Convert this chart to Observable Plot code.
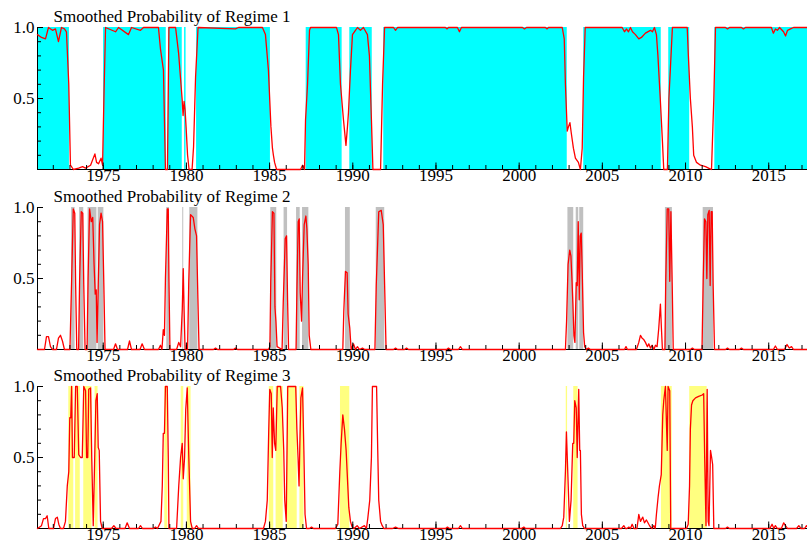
<!DOCTYPE html>
<html>
<head>
<meta charset="utf-8">
<script src="https://cdn.jsdelivr.net/npm/d3@7"></script>
<script src="https://cdn.jsdelivr.net/npm/@observablehq/plot@0.6"></script>
<style>
  html, body { margin: 0; padding: 0; background: #fff; color: #000; }
  #chart { position: relative; width: 807px; height: 548px; overflow: hidden; }
</style>
</head>
<body>
<div id="chart"></div>
<script>
// ---- Data ----
const panelTitles = ["Smoothed Probability of Regime 1", "Smoothed Probability of Regime 2", "Smoothed Probability of Regime 3"];
const xDomain = [1971.05, 2017.33];
const majorYears = [1975, 1980, 1985, 1990, 1995, 2000, 2005, 2010, 2015];
const minorYears = [1972,1973,1974,1975,1976,1977,1978,1979,1980,1981,1982,1983,1984,1985,1986,1987,1988,1989,1990,1991,1992,1993,1994,1995,1996,1997,1998,1999,2000,2001,2002,2003,2004,2005,2006,2007,2008,2009,2010,2011,2012,2013,2014,2015,2016,2017];
const yMinorTicks = [0.1, 0.2, 0.3, 0.4, 0.6, 0.7, 0.8, 0.9];
const yMajorTicks = [0.5, 1.0];
const yLabels = [0.5, 1.0];

const regime1Prob = [[1971.05,0.95],[1971.29,0.93],[1971.53,0.92],[1971.71,1.0],[1971.95,0.98],[1972.13,0.99],[1972.31,0.90],[1972.49,1.0],[1972.67,0.99],[1972.79,0.97],[1972.93,0.6],[1973.03,0.03],[1973.21,0.0],[1973.52,0.01],[1973.76,0.02],[1973.94,0.01],[1974.24,0.03],[1974.50,0.11],[1974.60,0.05],[1974.72,0.04],[1974.87,0.08],[1974.96,0.03],[1975.05,0.55],[1975.14,1.0],[1975.74,0.97],[1975.92,1.0],[1976.52,0.95],[1976.70,1.0],[1977.24,0.98],[1977.42,1.0],[1978.32,1.0],[1978.44,0.85],[1978.62,0.7],[1978.74,0.0],[1978.86,0.0],[1978.95,1.0],[1979.35,1.0],[1979.53,0.82],[1979.74,0.5],[1979.80,0.38],[1979.86,0.48],[1979.92,0.42],[1979.98,0.3],[1980.07,0.1],[1980.16,0.0],[1980.34,0.0],[1980.43,0.16],[1980.55,0.65],[1980.70,1.0],[1982.95,0.99],[1983.13,1.0],[1984.57,1.0],[1984.75,0.95],[1984.93,0.7],[1985.08,0.3],[1985.17,0.15],[1985.23,0.1],[1985.30,0.05],[1985.42,0.0],[1986.86,0.0],[1986.98,0.03],[1987.10,0.0],[1987.16,0.35],[1987.28,0.6],[1987.40,0.98],[1987.46,1.0],[1989.02,1.0],[1989.14,0.95],[1989.26,0.6],[1989.44,0.35],[1989.59,0.17],[1989.68,0.3],[1989.74,0.4],[1989.86,0.7],[1989.98,0.95],[1990.16,0.98],[1990.28,1.0],[1990.46,0.98],[1990.64,1.0],[1990.88,0.95],[1991.00,0.8],[1991.12,0.35],[1991.21,0.0],[1991.67,0.0],[1991.79,0.6],[1991.91,1.0],[1992.45,1.0],[1992.57,0.98],[1992.69,1.0],[1995.57,1.0],[1995.67,0.99],[1995.75,1.0],[1996.29,1.0],[1996.41,0.97],[1996.53,1.0],[2000.20,1.0],[2000.32,0.99],[2000.44,1.0],[2001.58,1.0],[2001.68,0.99],[2001.76,1.0],[2002.59,1.0],[2002.71,0.92],[2002.78,0.6],[2002.89,0.27],[2002.96,0.3],[2003.05,0.33],[2003.14,0.25],[2003.26,0.15],[2003.38,0.08],[2003.56,0.05],[2003.68,0.0],[2003.79,0.15],[2003.87,0.65],[2003.97,1.0],[2006.19,1.0],[2006.33,0.97],[2006.45,0.99],[2006.57,0.97],[2006.69,1.0],[2006.81,0.97],[2006.99,0.95],[2007.19,0.92],[2007.35,0.93],[2007.59,0.96],[2007.89,0.98],[2008.01,0.97],[2008.13,1.0],[2008.25,0.95],[2008.34,0.8],[2008.48,0.5],[2008.61,0.2],[2008.69,0.0],[2008.91,0.0],[2009.00,0.5],[2009.21,1.0],[2010.10,1.0],[2010.17,0.8],[2010.29,0.5],[2010.41,0.3],[2010.49,0.1],[2010.66,0.05],[2010.90,0.03],[2011.20,0.02],[2011.38,0.01],[2011.56,0.0],[2011.70,0.5],[2011.80,1.0],[2012.40,1.0],[2012.52,0.99],[2012.64,1.0],[2013.36,1.0],[2013.48,0.99],[2013.60,1.0],[2015.16,1.0],[2015.28,0.96],[2015.40,0.99],[2015.52,0.98],[2015.65,1.0],[2015.89,0.97],[2016.01,0.94],[2016.13,0.98],[2016.31,0.99],[2016.49,1.0],[2017.33,1.0]];

const regime2Prob = [[1971.05,0.0],[1971.47,0.0],[1971.59,0.09],[1971.71,0.09],[1971.83,0.02],[1971.95,0.0],[1972.19,0.0],[1972.31,0.08],[1972.43,0.1],[1972.55,0.06],[1972.67,0.0],[1973.00,0.0],[1973.10,0.48],[1973.20,0.99],[1973.29,0.96],[1973.34,0.47],[1973.41,0.0],[1973.52,0.0],[1973.58,0.48],[1973.68,0.97],[1973.77,0.96],[1973.83,0.46],[1973.91,0.0],[1974.03,0.0],[1974.09,0.5],[1974.18,0.99],[1974.28,0.9],[1974.37,0.93],[1974.45,0.6],[1974.52,0.39],[1974.58,0.42],[1974.63,0.05],[1974.70,0.45],[1974.78,0.88],[1974.87,0.96],[1974.96,0.9],[1975.04,0.44],[1975.11,0.0],[1975.62,0.0],[1975.74,0.04],[1975.86,0.0],[1976.46,0.0],[1976.58,0.06],[1976.70,0.0],[1977.21,0.0],[1977.34,0.04],[1977.48,0.0],[1978.32,0.0],[1978.44,0.03],[1978.53,0.0],[1978.61,0.14],[1978.68,0.1],[1978.74,0.5],[1978.85,0.99],[1978.91,0.99],[1978.95,0.5],[1979.01,0.0],[1979.41,0.0],[1979.54,0.05],[1979.65,0.02],[1979.75,0.28],[1979.81,0.57],[1979.86,0.28],[1979.92,0.0],[1980.07,0.0],[1980.14,0.47],[1980.25,0.95],[1980.41,0.93],[1980.51,0.85],[1980.61,0.8],[1980.69,0.36],[1980.76,0.0],[1981.63,0.0],[1981.75,0.01],[1981.87,0.0],[1982.83,0.0],[1982.95,0.01],[1983.07,0.0],[1984.93,0.0],[1985.02,0.02],[1985.07,0.48],[1985.17,0.97],[1985.26,0.96],[1985.32,0.3],[1985.38,0.2],[1985.45,0.02],[1985.75,0.0],[1985.82,0.33],[1985.94,0.78],[1986.02,0.8],[1986.08,0.35],[1986.14,0.0],[1986.59,0.0],[1986.64,0.4],[1986.72,0.9],[1986.78,0.92],[1986.84,0.4],[1986.92,0.2],[1986.98,0.5],[1987.08,0.88],[1987.18,0.94],[1987.24,0.85],[1987.32,0.6],[1987.38,0.1],[1987.48,0.0],[1989.40,0.0],[1989.46,0.27],[1989.56,0.55],[1989.66,0.54],[1989.72,0.25],[1989.82,0.15],[1989.90,0.0],[1990.04,0.04],[1990.16,0.0],[1990.28,0.02],[1990.40,0.0],[1990.58,0.01],[1990.71,0.0],[1991.33,0.0],[1991.41,0.45],[1991.56,0.97],[1991.71,0.98],[1991.83,0.88],[1991.92,0.42],[1992.00,0.0],[1992.45,0.0],[1992.57,0.01],[1992.69,0.0],[1993.11,0.0],[1993.23,0.01],[1993.35,0.0],[1995.64,0.0],[1995.75,0.01],[1995.87,0.0],[1996.35,0.0],[1996.47,0.02],[1996.59,0.0],[2002.78,0.0],[2002.85,0.2],[2002.94,0.6],[2003.04,0.7],[2003.11,0.66],[2003.17,0.5],[2003.23,0.32],[2003.29,0.1],[2003.35,0.05],[2003.43,0.47],[2003.49,0.45],[2003.55,0.9],[2003.61,0.35],[2003.67,0.8],[2003.73,0.82],[2003.79,0.55],[2003.87,0.12],[2003.94,0.02],[2004.04,0.0],[2004.16,0.01],[2004.28,0.0],[2006.33,0.0],[2006.42,0.02],[2006.51,0.0],[2007.05,0.0],[2007.19,0.05],[2007.29,0.1],[2007.39,0.08],[2007.49,0.07],[2007.59,0.05],[2007.71,0.02],[2007.79,0.04],[2007.89,0.01],[2007.99,0.03],[2008.10,0.0],[2008.19,0.03],[2008.29,0.02],[2008.39,0.15],[2008.49,0.32],[2008.55,0.15],[2008.61,0.0],[2008.76,0.0],[2008.81,0.48],[2008.90,0.99],[2008.99,0.99],[2009.05,0.48],[2009.12,0.97],[2009.20,0.45],[2009.26,0.0],[2010.29,0.0],[2010.41,0.01],[2010.53,0.0],[2010.99,0.0],[2011.06,0.48],[2011.14,0.92],[2011.22,0.9],[2011.28,0.5],[2011.34,0.95],[2011.42,0.98],[2011.48,0.45],[2011.54,0.97],[2011.60,0.97],[2011.66,0.45],[2011.74,0.0],[2012.40,0.0],[2012.52,0.01],[2012.64,0.0],[2013.24,0.0],[2013.36,0.01],[2013.48,0.0],[2015.28,0.0],[2015.40,0.025],[2015.52,0.0],[2015.95,0.0],[2016.10,0.035],[2016.24,0.01],[2016.37,0.02],[2016.49,0.0],[2017.33,0.0]];

const regime3Prob = [[1971.05,0.0],[1971.29,0.02],[1971.41,0.07],[1971.53,0.07],[1971.63,0.09],[1971.73,0.0],[1972.01,0.0],[1972.13,0.07],[1972.24,0.08],[1972.33,0.03],[1972.43,0.0],[1972.61,0.0],[1972.73,0.05],[1972.84,0.3],[1972.93,0.4],[1972.99,0.78],[1973.05,0.78],[1973.10,1.0],[1973.15,0.5],[1973.26,0.5],[1973.34,1.0],[1973.44,1.0],[1973.53,0.52],[1973.64,0.5],[1973.74,0.5],[1973.83,1.0],[1973.94,0.97],[1974.00,0.5],[1974.07,0.5],[1974.13,0.98],[1974.24,0.99],[1974.31,0.5],[1974.40,0.02],[1974.48,0.45],[1974.56,0.9],[1974.64,0.95],[1974.70,0.57],[1974.76,0.55],[1974.84,0.05],[1974.94,0.0],[1975.50,0.0],[1975.64,0.02],[1975.77,0.0],[1976.31,0.0],[1976.44,0.04],[1976.58,0.0],[1977.12,0.0],[1977.24,0.02],[1977.36,0.0],[1978.02,0.0],[1978.14,0.01],[1978.26,0.0],[1978.47,0.05],[1978.55,0.3],[1978.61,0.67],[1978.68,0.67],[1978.74,1.0],[1978.85,1.0],[1978.91,0.5],[1978.95,0.0],[1979.41,0.0],[1979.54,0.3],[1979.65,0.5],[1979.75,0.6],[1979.81,0.35],[1979.89,0.5],[1979.96,0.84],[1980.05,0.99],[1980.14,0.52],[1980.25,0.05],[1980.35,0.0],[1980.49,0.0],[1980.61,0.02],[1980.73,0.0],[1984.63,0.0],[1984.75,0.05],[1984.86,0.2],[1984.95,0.7],[1985.01,0.98],[1985.10,0.95],[1985.16,0.5],[1985.22,0.85],[1985.30,0.6],[1985.37,0.55],[1985.46,1.0],[1985.66,1.0],[1985.76,0.85],[1985.85,0.55],[1985.91,0.2],[1986.00,0.05],[1986.09,1.0],[1986.57,1.0],[1986.64,0.7],[1986.71,0.5],[1986.77,0.3],[1986.82,0.6],[1986.88,0.92],[1986.98,0.99],[1987.06,0.55],[1987.13,0.1],[1987.22,0.0],[1987.40,0.0],[1987.52,0.01],[1987.64,0.0],[1988.96,0.0],[1989.10,0.03],[1989.22,0.4],[1989.30,0.6],[1989.40,0.8],[1989.50,0.7],[1989.60,0.55],[1989.70,0.3],[1989.76,0.15],[1989.86,0.05],[1989.96,0.01],[1990.07,0.0],[1990.26,0.02],[1990.40,0.0],[1990.70,0.02],[1990.82,0.0],[1990.90,0.07],[1991.02,0.2],[1991.12,0.5],[1991.18,1.0],[1991.43,1.0],[1991.50,0.55],[1991.56,0.2],[1991.67,0.05],[1991.77,0.02],[1991.87,0.0],[1992.39,0.0],[1992.57,0.01],[1992.75,0.0],[1995.57,0.0],[1995.69,0.01],[1995.81,0.0],[1996.35,0.0],[1996.47,0.02],[1996.59,0.0],[2000.14,0.0],[2000.28,0.01],[2000.38,0.0],[2002.48,0.0],[2002.59,0.02],[2002.68,0.08],[2002.78,0.4],[2002.84,0.68],[2002.92,0.4],[2003.02,0.05],[2003.12,0.2],[2003.22,0.6],[2003.28,0.6],[2003.34,0.9],[2003.43,0.85],[2003.49,0.5],[2003.58,0.98],[2003.64,0.55],[2003.68,0.55],[2003.74,0.1],[2003.82,0.02],[2003.93,0.0],[2006.15,0.0],[2006.29,0.02],[2006.39,0.0],[2006.48,0.0],[2006.59,0.01],[2006.69,0.0],[2006.79,0.03],[2006.90,0.0],[2007.08,0.0],[2007.19,0.1],[2007.29,0.05],[2007.43,0.08],[2007.53,0.04],[2007.65,0.06],[2007.79,0.03],[2007.89,0.01],[2007.99,0.0],[2008.09,0.02],[2008.18,0.0],[2008.25,0.1],[2008.35,0.22],[2008.43,0.3],[2008.54,0.38],[2008.63,0.8],[2008.69,0.9],[2008.79,1.0],[2008.90,0.55],[2008.95,1.0],[2009.05,0.97],[2009.11,0.0],[2010.06,0.0],[2010.16,0.03],[2010.24,0.3],[2010.29,0.7],[2010.36,0.87],[2010.44,0.9],[2010.60,0.92],[2010.79,0.93],[2011.00,0.94],[2011.09,0.95],[2011.15,0.5],[2011.23,0.02],[2011.30,0.98],[2011.36,0.05],[2011.41,0.02],[2011.50,0.55],[2011.57,0.5],[2011.63,0.45],[2011.70,0.0],[2012.40,0.0],[2012.52,0.01],[2012.64,0.0],[2015.07,0.0],[2015.20,0.03],[2015.31,0.0],[2015.40,0.02],[2015.52,0.0],[2015.76,0.0],[2015.90,0.04],[2016.01,0.02],[2016.13,0.0],[2016.67,0.0],[2016.81,0.02],[2016.94,0.0],[2017.15,0.0],[2017.27,0.02],[2017.33,0.01]];

const regime1Bands = [[1971.05,1972.97],[1975.02,1978.79],[1978.92,1979.75],[1979.89,1979.98],[1980.61,1985.05],[1987.20,1989.36],[1989.82,1991.17],[1991.86,2002.89],[2003.88,2008.54],[2008.99,2010.25],[2011.76,2017.33]];
const regime2Bands = [[1973.10,1973.31],[1973.58,1973.83],[1974.09,1974.62],[1974.70,1975.04],[1978.82,1978.98],[1979.78,1979.84],[1980.20,1980.69],[1985.07,1985.43],[1985.87,1986.08],[1986.62,1986.84],[1986.98,1987.36],[1989.56,1989.85],[1991.41,1991.92],[2002.93,2003.28],[2003.43,2003.58],[2003.64,2003.88],[2008.79,2009.21],[2011.06,2011.68]];
const regime3Bands = [[1972.93,1973.23],[1973.34,1973.62],[1973.83,1974.33],[1974.51,1974.69],[1978.70,1978.88],[1979.69,1979.84],[1980.05,1980.28],[1984.98,1985.25],[1985.39,1985.82],[1986.06,1986.66],[1986.82,1987.07],[1989.26,1989.82],[2002.83,2002.91],[2003.28,2003.54],[2008.55,2009.20],[2010.25,2011.30]];

const bandColors = ["#00ffff", "#c0c0c0", "#ffff80"];

// ---- Drawing ----
const W = 807, ML = 37, MT = 27, MB = 21, PH = 142;
const PW = W - ML;
const panelTops = [0, 179.7, 358.7];
const FONT = "Liberation Serif";
const FS = 17;

function panel(title, probs, bands, fill) {
  const line = probs.map(([year, p]) => ({year, p}));
  const rects = bands.map(([a, b]) => ({a, b}));
  return Plot.plot({
    width: W,
    height: MT + PH + MB,
    marginLeft: ML,
    marginRight: 0,
    marginTop: MT,
    marginBottom: MB,
    x: {domain: xDomain, axis: null},
    y: {domain: [0, 1], axis: null},
    style: {fontFamily: FONT, fontSize: FS + "px", background: "transparent", overflow: "visible", color: "#000"},
    marks: [
      Plot.rect(rects, {x1: "a", x2: "b", fill}),
      Plot.ruleX([xDomain[0]], {stroke: "#000", strokeWidth: 1}),
      Plot.ruleY([0], {stroke: "#000", strokeWidth: 1.2}),
      Plot.line(line, {x: "year", y: "p", stroke: "#ff0000", strokeWidth: 1.3}),
      Plot.ruleX(minorYears, {stroke: "#000", insetTop: PH - 4}),
      Plot.ruleX(majorYears, {stroke: "#000", insetTop: PH - 6.5}),
      Plot.ruleY(yMinorTicks, {stroke: "#000", insetRight: PW - 4}),
      Plot.ruleY(yMajorTicks, {stroke: "#000", insetRight: PW - 6}),
      Plot.text(majorYears, {x: d => d, frameAnchor: "bottom", dy: 11.5, text: d => String(d), fill: "#000", fontFamily: FONT, fontSize: FS}),
      Plot.text(yLabels, {y: d => d, frameAnchor: "left", textAnchor: "end", dx: -3, text: d => d.toFixed(1), fill: "#000", fontFamily: FONT, fontSize: FS}),
      Plot.text([title], {frameAnchor: "top-left", dx: 16, dy: -6, lineAnchor: "bottom", text: d => d, fill: "#000", fontFamily: FONT, fontSize: FS})
    ]
  });
}

const chart = document.getElementById("chart");
const probs = [regime1Prob, regime2Prob, regime3Prob];
const bands = [regime1Bands, regime2Bands, regime3Bands];
for (let i = 0; i < 3; i++) {
  const svg = panel(panelTitles[i], probs[i], bands[i], bandColors[i]);
  svg.style.position = "absolute";
  svg.style.left = "0px";
  svg.style.top = panelTops[i] + "px";
  chart.appendChild(svg);
}
</script>
</body>
</html>
